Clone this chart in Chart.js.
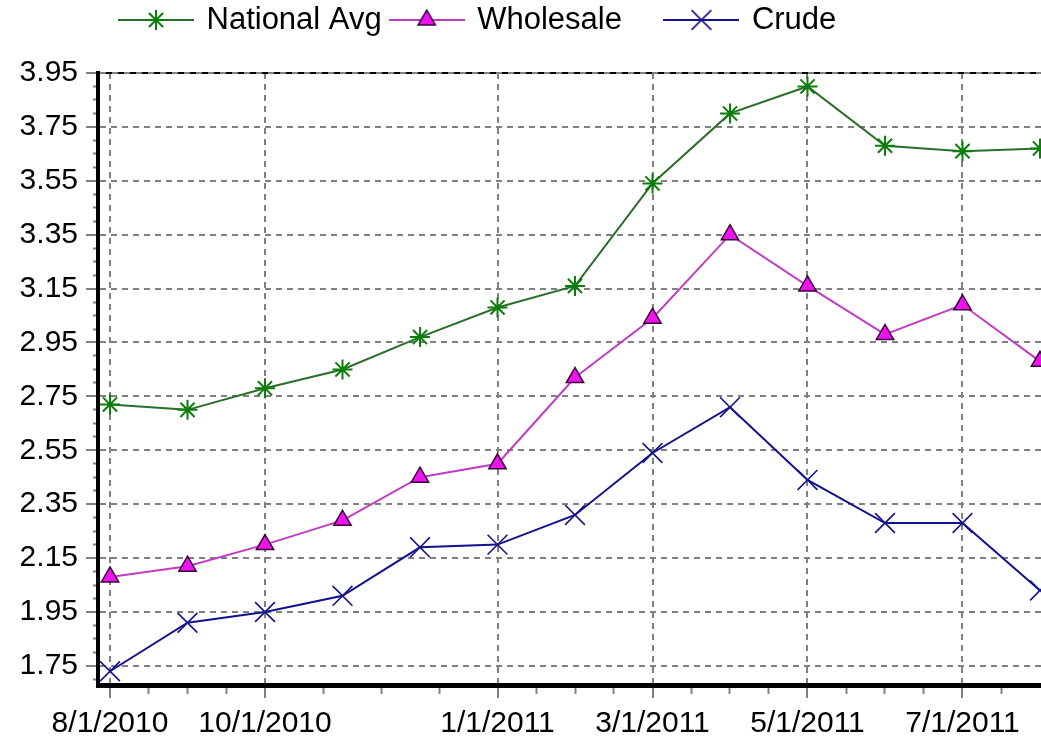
<!DOCTYPE html>
<html>
<head>
<meta charset="utf-8">
<script src="https://cdn.jsdelivr.net/npm/chart.js@4.4.1/dist/chart.umd.min.js"></script>
<style>
html,body{margin:0;padding:0;background:#fff;}
#wrap{width:1041px;height:739px;position:relative;background:#fff;}
canvas{display:block;}
</style>
</head>
<body>
<div id="wrap"><canvas id="c" width="1041" height="739"></canvas></div>
<script>
// ---- data ----
const months = ['8/1/2010','9/1/2010','10/1/2010','11/1/2010','12/1/2010','1/1/2011','2/1/2011','3/1/2011','4/1/2011','5/1/2011','6/1/2011','7/1/2011','8/1/2011'];
const xTickLabels = ['8/1/2010','10/1/2010','1/1/2011','3/1/2011','5/1/2011','7/1/2011'];
const seriesNames = ['National Avg','Wholesale','Crude'];
const nationalAvg = [2.72, 2.70, 2.78, 2.85, 2.97, 3.08, 3.16, 3.54, 3.80, 3.90, 3.68, 3.66, 3.67];
const wholesale   = [2.08, 2.12, 2.20, 2.29, 2.45, 2.50, 2.82, 3.04, 3.35, 3.16, 2.98, 3.09, 2.88];
const crude       = [1.73, 1.91, 1.95, 2.01, 2.19, 2.20, 2.31, 2.54, 2.71, 2.44, 2.28, 2.28, 2.03];
const yTicks = [1.75, 1.95, 2.15, 2.35, 2.55, 2.75, 2.95, 3.15, 3.35, 3.55, 3.75, 3.95];
const xMinorTicks = [0.5,1,1.5,2.75,3.5,4.25,5.5,6,6.5,7.5,8,8.5,9.5,10,10.5,11.5];

// ---- derived ----
const xMajor = xTickLabels.map(l => months.indexOf(l));
const yMinor = [];
for (let k = 0; k <= 44; k++) {
  const v = Math.round((1.70 + k * 0.05) * 100) / 100;
  if (v < 3.95 && !yTicks.some(t => Math.abs(t - v) < 1e-6)) yMinor.push(v);
}
const toXY = arr => arr.map((v, i) => ({x: i, y: v}));

const FONT = "'Liberation Sans', Arial, Helvetica, sans-serif";
Chart.defaults.font.family = FONT;

const styles = [
  {line:'#2a6e2a', style:'star',     radius:10, fill:'#0a7d0a', border:'#0a7d0a', bw:2},
  {line:'#c23cc2', style:'triangle', radius:10, fill:'#ee14ee', border:'#3c003c', bw:1.5},
  {line:'#111190', style:'crossRot', radius:14, fill:'#14148c', border:'#14148c', bw:1.6}
];

function legendIcon(s) {
  const c = document.createElement('canvas');
  c.width = 76; c.height = 30;
  const g = c.getContext('2d');
  g.strokeStyle = s.line; g.lineWidth = 2;
  g.beginPath(); g.moveTo(0, 15); g.lineTo(76, 15); g.stroke();
  g.strokeStyle = s.border; g.fillStyle = s.fill; g.lineWidth = s.bw;
  Chart.helpers.drawPoint(g, {pointStyle: s.style, radius: s.radius, rotation: 0, borderWidth: s.bw}, 38, 15);
  return c;
}
const legendIcons = styles.map(legendIcon);
const legendPad = [0, 4, 0];

const chartPlugin = {
  id: 'layoutFix',
  beforeLayout(chart) {
    const lg = chart.legend;
    if (lg && !lg._fixed) {
      const orig = lg.fit;
      lg.fit = function() { orig.call(this); this.height = 73; };
      lg._fixed = true;
    }
  },
  afterLayout(chart) {
    if (chart.legend) {
      chart.legend.left = 111;
      chart.legend.top = 20 - 10 - 15.5;
    }
  },
  beforeDatasetsDraw(chart) {
    const {ctx, chartArea} = chart;
    ctx.save();
    ctx.strokeStyle = '#000';
    ctx.lineWidth = 2;
    ctx.setLineDash([6, 6]);
    ctx.lineDashOffset = 6;
    ctx.beginPath();
    ctx.moveTo(chartArea.left + 2, chartArea.top);
    ctx.lineTo(chartArea.right, chartArea.top);
    ctx.stroke();
    ctx.restore();
  }
};

const datasets = [nationalAvg, wholesale, crude].map((arr, i) => ({
  label: seriesNames[i],
  data: toXY(arr),
  borderColor: styles[i].line,
  borderWidth: 2,
  tension: 0,
  fill: false,
  pointStyle: styles[i].style,
  pointRadius: styles[i].radius,
  pointBackgroundColor: styles[i].fill,
  pointBorderColor: styles[i].border,
  pointBorderWidth: styles[i].bw
}));

const zeroPadH = s => { s.paddingLeft = 0; s.paddingRight = 0; };

new Chart(document.getElementById('c'), {
  type: 'line',
  data: {datasets},
  plugins: [chartPlugin],
  options: {
    responsive: false,
    animation: false,
    devicePixelRatio: 1,
    events: [],
    layout: {padding: 0, autoPadding: false},
    plugins: {
      tooltip: {enabled: false},
      legend: {
        display: true,
        position: 'top',
        align: 'start',
        labels: {
          usePointStyle: true,
          pointStyleWidth: 70,
          padding: 10,
          color: '#000',
          font: {family: FONT, size: 31},
          generateLabels: chart => {
            const items = Chart.defaults.plugins.legend.labels.generateLabels(chart);
            return items.map((it, i) => Object.assign(it, {
              pointStyle: legendIcons[i],
              text: seriesNames[i] + '\u00a0'.repeat(legendPad[i])
            }));
          }
        }
      }
    },
    scales: {
      x: {
        type: 'linear',
        position: 'bottom',
        weight: 1,
        min: -0.155,
        max: 12.013,
        afterBuildTicks: s => { s.ticks = xMajor.map(v => ({value: v})); },
        afterFit: s => { s.height = 54; zeroPadH(s); },
        ticks: {
          autoSkip: false, maxRotation: 0, minRotation: 0,
          color: '#000', padding: 8,
          font: {family: FONT, size: 30, lineHeight: 1.2},
          callback: v => months[v]
        },
        grid: {color: '#808080', lineWidth: 2, tickLength: 13, tickColor: '#808080', tickWidth: 2},
        border: {display: true, color: '#000', width: 5, dash: [6, 5]}
      },
      xm: {
        type: 'linear',
        position: 'bottom',
        weight: 0,
        min: -0.155,
        max: 12.013,
        afterBuildTicks: s => { s.ticks = xMinorTicks.map(v => ({value: v})); },
        afterFit: s => { s.height = 0; zeroPadH(s); },
        ticks: {display: false},
        grid: {drawOnChartArea: false, drawTicks: true, tickLength: 9, tickColor: '#808080', tickWidth: 2},
        border: {display: true, color: 'rgba(0,0,0,0)', width: 5}
      },
      y: {
        type: 'linear',
        position: 'left',
        weight: 1,
        min: 1.679,
        max: 3.95,
        afterBuildTicks: s => { s.ticks = yTicks.map(v => ({value: v})); },
        afterFit: s => { s.width = 98; },
        ticks: {
          color: '#000', padding: 8,
          font: {family: FONT, size: 30},
          callback: v => Number(v).toFixed(2)
        },
        grid: {color: '#808080', lineWidth: 2, tickLength: 12, tickColor: '#808080', tickWidth: 2},
        border: {
          display: true, color: '#000', width: 4,
          dash: ctx => (ctx.index === yTicks.length - 1 ? [6, 6] : [6, 5])
        }
      },
      ym: {
        type: 'linear',
        position: 'left',
        weight: 0,
        min: 1.679,
        max: 3.95,
        afterBuildTicks: s => { s.ticks = yMinor.map(v => ({value: v})); },
        afterFit: s => { s.width = 0; },
        ticks: {display: false},
        grid: {drawOnChartArea: false, drawTicks: true, tickLength: 5, tickColor: '#808080', tickWidth: 2},
        border: {display: true, color: 'rgba(0,0,0,0)', width: 4}
      }
    }
  }
});
</script>
</body>
</html>
